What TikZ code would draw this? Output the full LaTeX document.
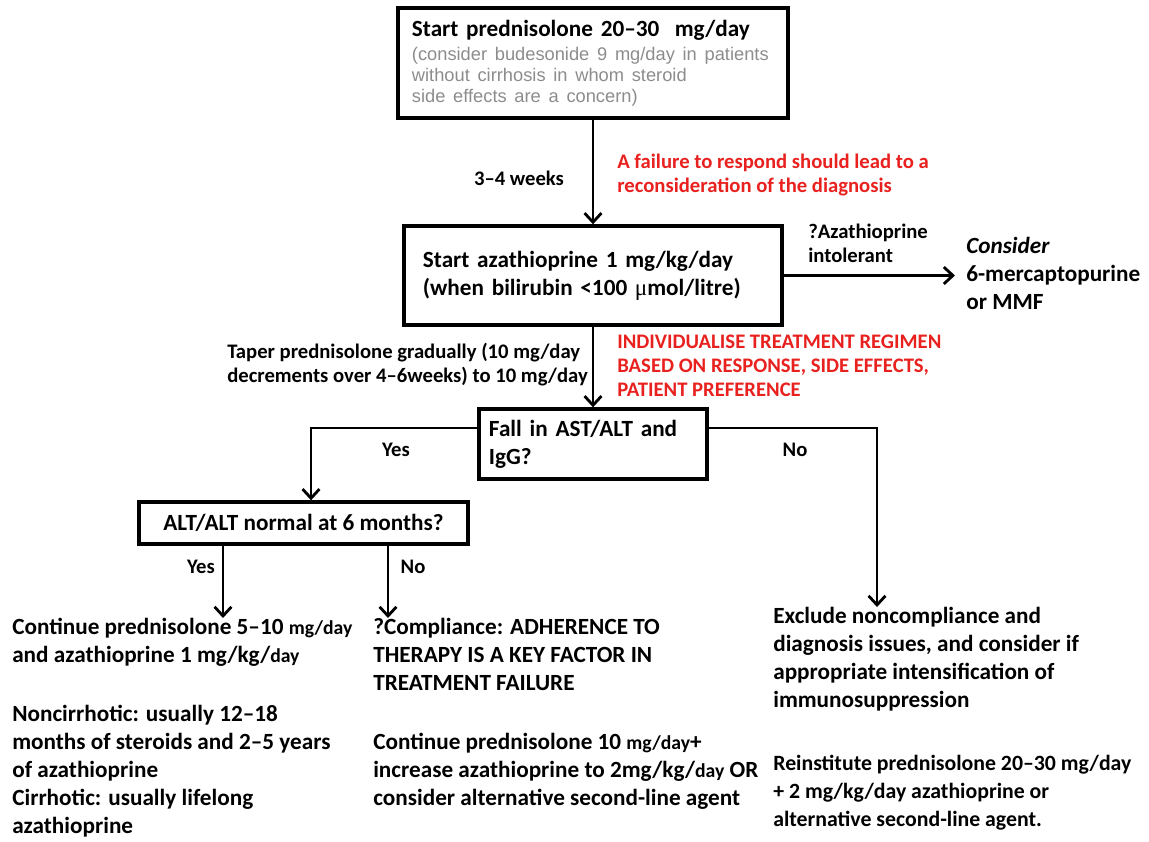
\documentclass[tikz,border=0pt]{standalone}
\usepackage{fontspec}
\setmainfont{Carlito}
\newfontfamily\arialfont{Liberation Sans}
\newfontfamily\symbfont{Liberation Serif}
\usetikzlibrary{positioning,arrows.meta}
\definecolor{FlagRed}{HTML}{E8211F}
\definecolor{NoteGrey}{HTML}{8C8C8C}
\newcommand\smallunit[1]{{\fontsize{14}{16}\selectfont #1}}

\begin{document}
\begin{tikzpicture}[x=0.025cm,y=-0.025cm,
    font=\fontsize{16.5}{19.9}\selectfont\bfseries,
    stepbox/.style={draw,line width=2.4pt,inner sep=0pt},
    flow/.style={-{Straight Barb[length=6.5pt,width=12pt]},line width=2pt},
    lbl/.style={font=\fontsize{14.7}{17}\selectfont\bfseries,align=left,inner sep=0pt},
    note/.style={lbl,text=FlagRed},
    body/.style={align=left,inner sep=0pt}]
  \useasboundingbox (0,0) rectangle (1149,841);

  % boxes
  \node[stepbox,minimum width=9.75cm,minimum height=2.75cm,text width=9.05cm,align=left] (pred) at (593,63)
    {Start prednisolone 20--30~~mg/day\par\vspace{2pt}%
     {\arialfont\mdseries\color{NoteGrey}\fontsize{13}{15}\selectfont (consider budesonide 9 mg/day in patients\\
      without cirrhosis in whom steroid\\ side effects are a concern)\par}};
  \node[stepbox,minimum width=9.45cm,minimum height=2.475cm,text width=8.5cm,align=left] (aza) at (593,275.5)
    {Start azathioprine 1 mg/kg/day\\(when bilirubin <100 {\symbfont\mdseries μ}mol/litre)};
  \node[stepbox,minimum width=5.7cm,minimum height=1.75cm,text width=5.2cm,align=left] (fall) at (593,444)
    {Fall in AST/ALT and\\IgG?};
  \node[stepbox,minimum width=8.225cm,minimum height=1.05cm] (alt) at (303.5,523)
    {ALT/ALT normal at 6 months?};
  \node[body,anchor=west,inner xsep=0.275cm] (cons) at (955,273)
    {\textit{Consider}\\6-mercaptopurine\\or MMF};

  % labels
  \node[lbl] (weeks) at (519,178) {3--4 weeks};
  \node[note,anchor=west] (rethink) at (617,175) {A failure to respond should lead to a\\reconsideration of the diagnosis};
  \node[lbl,anchor=west] (intol) at (808,243.5) {?Azathioprine\\intolerant};
  \node[lbl,anchor=west] (taper) at (227,365) {Taper prednisolone gradually (10 mg/day\\decrements over 4--6weeks) to 10 mg/day};
  \node[note,anchor=west] (indiv) at (617,366) {INDIVIDUALISE TREATMENT REGIMEN\\BASED ON RESPONSE, SIDE EFFECTS,\\PATIENT PREFERENCE};
  \node[lbl] (yes1) at (396,450) {Yes};
  \node[lbl] (no1) at (795,450) {No};
  \node[lbl] (yes2) at (201,567) {Yes};
  \node[lbl] (no2) at (413,567) {No};

  % outcomes
  \node[body,anchor=north west] (cont) at (12,618)
    {Continue prednisolone 5--10 \smallunit{mg/day}\\and azathioprine 1 mg/kg/\smallunit{day}\\[22pt]
     Noncirrhotic: usually 12--18\\months of steroids and 2--5 years\\of azathioprine\\Cirrhotic: usually lifelong\\azathioprine};
  \node[body,anchor=north west] (comply) at (373,618)
    {?Compliance: ADHERENCE TO\\THERAPY IS A KEY FACTOR IN\\TREATMENT FAILURE\\[22pt]
     Continue prednisolone 10 \smallunit{mg/day}+\\increase azathioprine to 2mg/kg/\smallunit{day} OR\\consider alternative second-line agent};
  \node[body,anchor=north west] (excl) at (773,607)
    {Exclude noncompliance and\\diagnosis issues, and consider if\\appropriate intensification of\\immunosuppression\\[25pt]
     {\fontsize{15.5}{19}\selectfont Reinstitute prednisolone 20--30 mg/day}\\
     {\fontsize{15.5}{19}\selectfont + 2 mg/kg/day azathioprine or}\\
     {\fontsize{15.5}{19}\selectfont alternative second-line agent.}};

  \coordinate (yesdrop) at (311,428);
  \coordinate (nodrop) at (877,428);
  \coordinate (ayes) at (223,0);
  \coordinate (ano) at (388,0);

  % connectors
  \draw[flow] (pred) -- (aza);
  \draw[flow] (aza) -- (fall);
  \draw[flow] (aza.east) -- (aza.east -| cons.west);
  \draw[flow] (fall.west |- yesdrop) -- (yesdrop) -- (yesdrop |- alt.north);
  \draw[flow] (fall.east |- nodrop) -- (nodrop) -- (nodrop |- excl.north);
  \draw[flow] (alt.south -| ayes) -- (cont.north -| ayes);
  \draw[flow] (alt.south -| ano) -- (comply.north -| ano);
\end{tikzpicture}
\end{document}
